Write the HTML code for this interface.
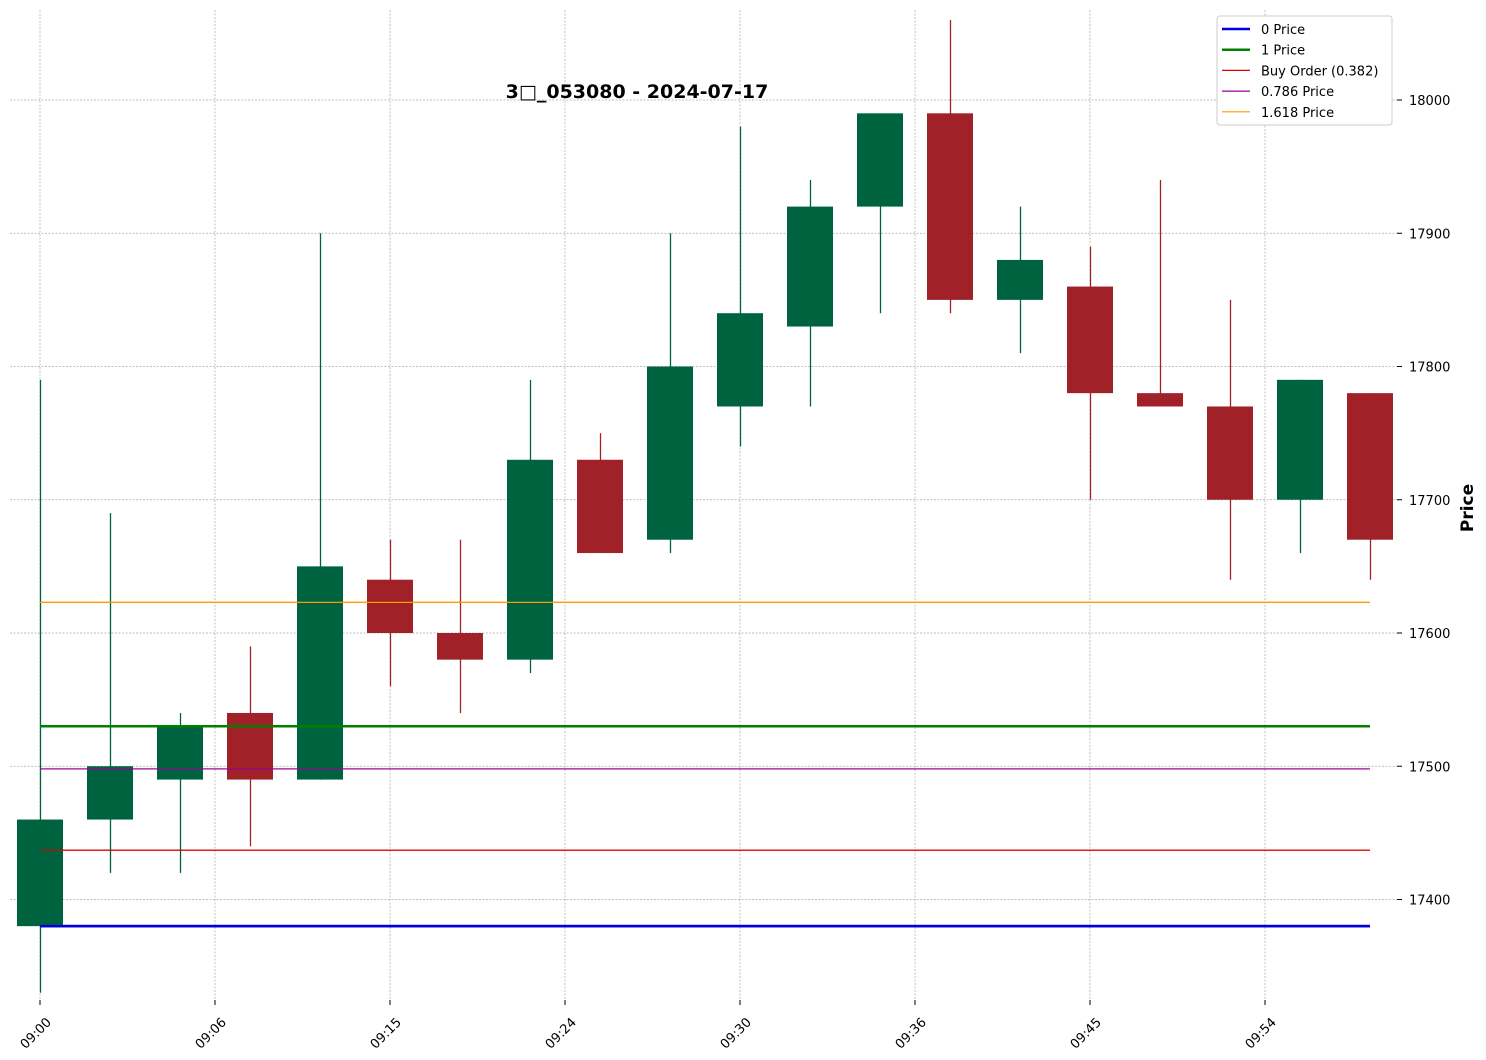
<!DOCTYPE html>
<html><head><meta charset="utf-8"><style>
body{margin:0;background:#fff;font-family:"DejaVu Sans","Liberation Sans",sans-serif;}
svg{display:block}
</style></head><body>
<svg id="chart" width="1486" height="1060" font-family="DejaVu Sans, Liberation Sans, sans-serif">
<g id="grid"></g>
<g id="hlines"></g>
<g id="candles"></g>
<g id="axes"></g>
<text x="637" y="98" text-anchor="middle" font-size="19" font-weight="bold">3□_053080 - 2024-07-17</text>
<text transform="translate(1473,508) rotate(-90)" text-anchor="middle" font-size="17" font-weight="bold">Price</text>
<g id="legend"></g>
</svg>
<script>
const opens=[17380,17460,17490,17540,17490,17640,17600,17580,17730,17670,17770,17830,17920,17990,17850,17860,17780,17770,17700,17780];
const highs=[17790,17690,17540,17590,17900,17670,17670,17790,17750,17900,17980,17940,17990,18060,17920,17890,17940,17850,17790,17780];
const lows=[17330,17420,17420,17440,17490,17560,17540,17570,17660,17660,17740,17770,17840,17840,17810,17700,17770,17640,17660,17640];
const closes=[17460,17500,17530,17490,17650,17600,17580,17730,17660,17800,17840,17920,17990,17850,17880,17780,17770,17700,17790,17670];
const xTickPos=[0,2.5,5,7.5,10,12.5,15,17.5];
const xTickLabels=["09:00","09:06","09:15","09:24","09:30","09:36","09:45","09:54"];
const yTicks=[17400,17500,17600,17700,17800,17900,18000];
const levelNames=["0 Price","1 Price","Buy Order (0.382)","0.786 Price","1.618 Price"];
const levelValues=[17380,17530,17437,17498,17623];
const levelColors=["#0000dd","#008000","#dd0000","#990099","#ff9900"];
const levelWidths=[2.5,2.5,1.2,1.2,1.2];

const NS="http://www.w3.org/2000/svg";
const X=i=>40+i*70;
const Y=v=>100+(18000-v)*1.3325;
function mk(tag,attrs,parent){const e=document.createElementNS(NS,tag);for(const k in attrs)e.setAttribute(k,attrs[k]);parent.appendChild(e);return e;}
const grid=document.getElementById('grid'),axes=document.getElementById('axes');
xTickPos.forEach((p,i)=>{
  const l=mk('line',{x1:X(p),x2:X(p),y1:10,y2:1000,stroke:'#aaa','stroke-width':0.7,'stroke-dasharray':'2,1.5'},grid);
  
  const t=mk('line',{x1:X(p),x2:X(p),y1:1000,y2:1005,stroke:'#000'},axes);
  
  const tx=mk('text',{transform:`translate(${X(p)+12},${1023}) rotate(-45)`,'text-anchor':'end','font-size':13},axes);
  tx.textContent=xTickLabels[i];
  
});
yTicks.forEach(v=>{
  const l=mk('line',{x1:10,x2:1397,y1:Y(v),y2:Y(v),stroke:'#aaa','stroke-width':0.7,'stroke-dasharray':'2,1.5'},grid);
  
  const t=mk('line',{x1:1397,x2:1402,y1:Y(v),y2:Y(v),stroke:'#000'},axes);
  
  const tx=mk('text',{x:1409,y:Y(v)+5,'font-size':13},axes);
  tx.textContent=v;
  
});
const hl=document.getElementById('hlines');
levelValues.forEach((v,i)=>{
  const l=mk('line',{x1:40,x2:1370,y1:Y(v),y2:Y(v),stroke:levelColors[i],'stroke-width':levelWidths[i]},hl);
  
});
const cg=document.getElementById('candles');
opens.forEach((o,i)=>{
  const c=closes[i],col=c>=o?'#006340':'#a02128';
  const g=mk('g',{},cg);
  
  mk('line',{x1:X(i)+0.5,x2:X(i)+0.5,y1:Y(highs[i]),y2:Y(lows[i]),stroke:col,'stroke-width':1.3},g);
  const top=Y(Math.max(o,c)),bot=Y(Math.min(o,c));
  mk('rect',{x:X(i)-23,y:top,width:46,height:Math.max(1,bot-top),fill:col},g);
});
levelValues.forEach((v,i)=>{
  const l=mk('line',{x1:40,x2:1370,y1:Y(v),y2:Y(v),stroke:levelColors[i],'stroke-width':levelWidths[i]},cg);
  
});
const lg=document.getElementById('legend');
const box=mk('rect',{x:1217,y:16,width:175,height:109,fill:'#fff',stroke:'#ccc',rx:3},lg);

levelNames.forEach((n,i)=>{
  const y=29+i*20.7;
  const e=mk('g',{},lg);
  
  mk('line',{x1:1222,x2:1250,y1:y,y2:y,stroke:levelColors[i],'stroke-width':levelWidths[i]},e);
  const t=mk('text',{x:1261,y:y+5,'font-size':13},e);t.textContent=n;
});
</script>
</body></html>
